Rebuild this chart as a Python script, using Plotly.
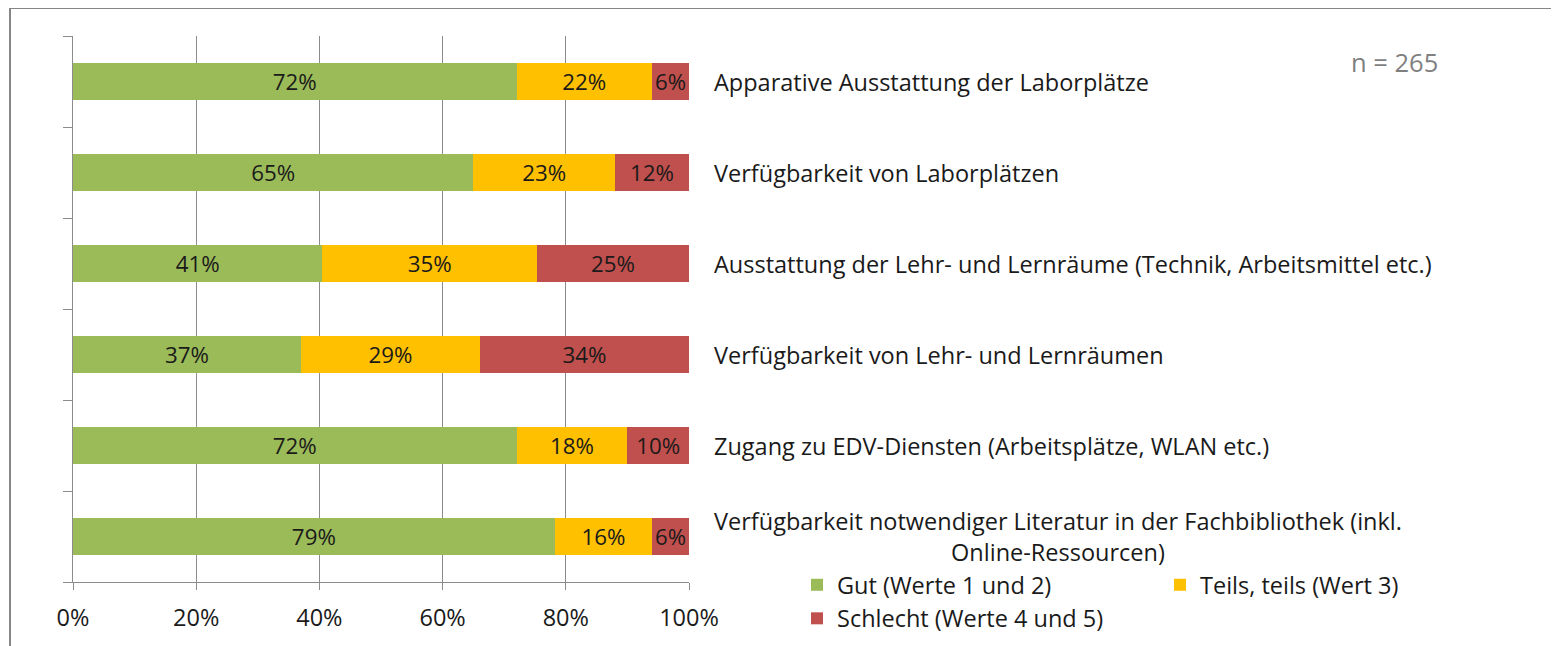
import plotly.graph_objects as go

categories = [
    "Apparative Ausstattung der Laborplätze",
    "Verfügbarkeit von Laborplätzen",
    "Ausstattung der Lehr- und Lernräume (Technik, Arbeitsmittel etc.)",
    "Verfügbarkeit von Lehr- und Lernräumen",
    "Zugang zu EDV-Diensten (Arbeitsplätze, WLAN etc.)",
    "Verfügbarkeit notwendiger Literatur in der Fachbibliothek (inkl.<br>Online-Ressourcen)",
]
gut = [72.0, 65.0, 40.5, 37.0, 72.0, 78.2]
teils = [22.0, 23.0, 34.8, 29.1, 18.0, 15.8]
schlecht = [6.0, 12.0, 24.7, 33.9, 10.0, 6.0]
gut_labels = ["72%", "65%", "41%", "37%", "72%", "79%"]
teils_labels = ["22%", "23%", "35%", "29%", "18%", "16%"]
schlecht_labels = ["6%", "12%", "25%", "34%", "10%", "6%"]
series_names = ["Gut (Werte 1 und 2)", "Teils, teils (Wert 3)", "Schlecht (Werte 4 und 5)"]
colors = ["#9BBB59", "#FFC000", "#C0504D"]
x_ticks = [0, 20, 40, 60, 80, 100]
x_tick_labels = ["0%", "20%", "40%", "60%", "80%", "100%"]
n_text = "n = 265"

FONT = "Open Sans"
FS = 23.5
TXT = "#1a1a1a"
# page body adds an 8px offset; figure sized to fit the window
W, H = 1551, 638
L, T = 65, 28
PR, PB = 681, 574          # plot right / bottom in figure pixels
R, B = W - PR, H - PB

fig = go.Figure()
for vals, labs, name, col in zip([gut, teils, schlecht],
                                 [gut_labels, teils_labels, schlecht_labels],
                                 series_names, colors):
    fig.add_trace(go.Bar(
        y=list(range(len(categories))), x=vals, orientation="h", name=name,
        marker=dict(color=col, line=dict(width=0)),
        text=labs, textposition="inside", insidetextanchor="middle",
        textangle=0, textfont=dict(family=FONT, size=FS, color=TXT),
        width=0.4,
    ))

for i, cat in enumerate(categories):
    fig.add_annotation(
        x=100, y=i, xref="x", yref="y", text=cat, showarrow=False,
        xanchor="left", xshift=23, align="center",
        font=dict(family=FONT, size=FS, color=TXT),
    )

fig.add_annotation(
    x=1.0, y=1.0, xref="paper", yref="paper", text=n_text, showarrow=False,
    xanchor="right", yanchor="middle", xshift=1432 - PR, yshift=-26,
    font=dict(family=FONT, size=25.5, color="#7f7f7f"),
)

pw = PR - L
ph = PB - T
lx = (2 - L) / pw
ty = 1 + (T - 0) / ph
fig.add_shape(type="line", xref="paper", yref="paper", x0=lx, x1=lx, y0=-0.3, y1=ty,
              line=dict(color="#868686", width=2))
fig.add_shape(type="line", xref="paper", yref="paper", x0=lx, x1=3, y0=ty, y1=ty,
              line=dict(color="#868686", width=2))

fig.update_layout(
    width=W, height=H,
    margin=dict(l=L, r=R, t=T, b=B, pad=0, autoexpand=False),
    barmode="stack",
    plot_bgcolor="white", paper_bgcolor="white",
    font=dict(family=FONT, size=FS, color=TXT),
    showlegend=True,
    legend=dict(
        orientation="h", x=(789 - L) / pw, xanchor="left",
        y=(PB - 555) / ph, yanchor="top",
        entrywidth=318, traceorder="normal",
        font=dict(family=FONT, size=FS, color=TXT),
        bgcolor="rgba(0,0,0,0)",
    ),
    xaxis=dict(
        range=[0, 100], tickvals=x_ticks, ticktext=x_tick_labels,
        showgrid=True, gridcolor="#8c8c8c", gridwidth=1,
        ticks="outside", ticklen=7, tickcolor="#8c8c8c",
        showline=True, linecolor="#8c8c8c", linewidth=1,
        zeroline=False, tickfont=dict(family=FONT, size=FS, color=TXT),
        ticklabelstandoff=8,
        fixedrange=True,
    ),
    yaxis=dict(
        range=[len(categories) - 0.5, -0.5],
        tickvals=[i - 0.5 for i in range(len(categories) + 1)],
        ticktext=[""] * (len(categories) + 1),
        showgrid=False, zeroline=False,
        ticks="outside", ticklen=9, tickcolor="#8c8c8c",
        showline=True, linecolor="#8c8c8c", linewidth=1,
        fixedrange=True,
    ),
)

fig.write_html("out.html")
